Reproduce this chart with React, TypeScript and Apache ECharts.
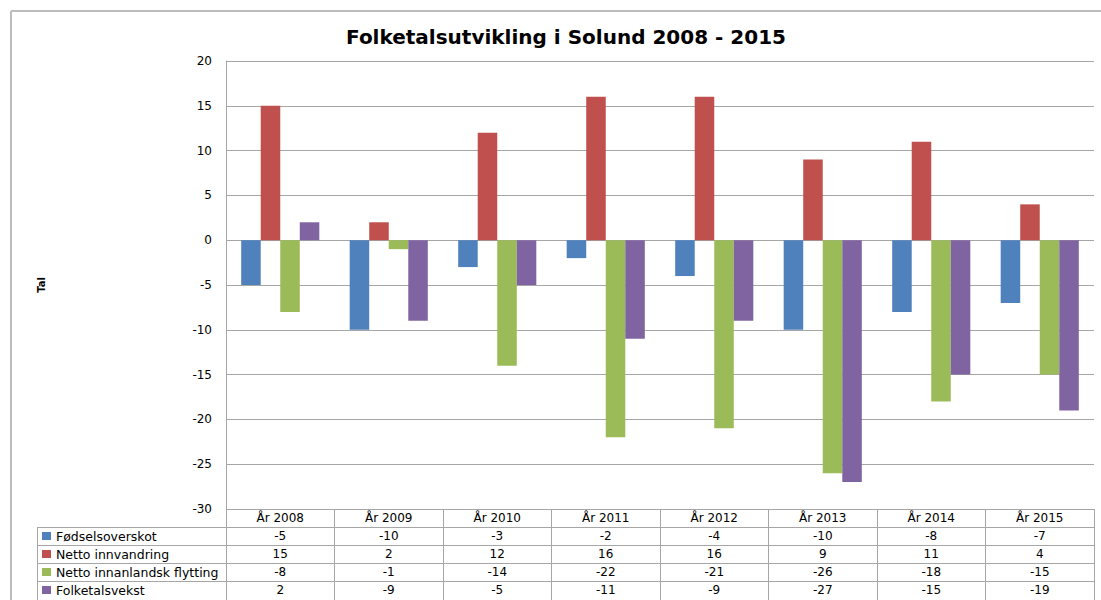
import React, { useEffect, useRef } from "react";
import * as echarts from "echarts";

const categories = ["År 2008", "År 2009", "År 2010", "År 2011", "År 2012", "År 2013", "År 2014", "År 2015"];
const seriesNames = ["Fødselsoverskot", "Netto innvandring", "Netto innanlandsk flytting", "Folketalsvekst"];
const fodselsoverskot = [-5, -10, -3, -2, -4, -10, -8, -7];
const nettoInnvandring = [15, 2, 12, 16, 16, 9, 11, 4];
const nettoInnanlandsk = [-8, -1, -14, -22, -21, -26, -18, -15];
const folketalsvekst = [2, -9, -5, -11, -9, -27, -15, -19];
const seriesValues = [fodselsoverskot, nettoInnvandring, nettoInnanlandsk, folketalsvekst];
const colors = ["#4F81BD", "#C0504D", "#9BBB59", "#8064A2"];
const yTicks = { min: -30, max: 20, interval: 5 };

const GRID_LEFT = 226;
const GRID_RIGHT = 1094;
const GRID_TOP = 61;
const GRID_BOTTOM = 509;
const ROW_H = 18;
const TABLE_LEFT = 37;
const FONT = "'DejaVu Sans', sans-serif";
const LINE = "#a6a6a6";

export default function App() {
  const ref = useRef<HTMLDivElement>(null);
  useEffect(() => {
    if (!ref.current) return;
    const chart = echarts.init(ref.current, null, { renderer: "svg" });

    const rowAxes = seriesValues.map((vals, i) => ({
      type: "category",
      gridIndex: 0,
      position: "bottom",
      offset: ROW_H * (i + 1),
      data: vals.map(String),
      axisLine: { show: false, onZero: false },
      axisTick: { show: false },
      splitLine: { show: false },
      axisLabel: { interval: 0, margin: 3, fontSize: 12, color: "#000", fontFamily: FONT },
    }));

    const graphics: any[] = [];
    graphics.push({ type: "line", shape: { x1: 11, y1: 11, x2: 1101, y2: 11 }, style: { stroke: "#bdbdbd", lineWidth: 2 } });
    graphics.push({ type: "line", shape: { x1: 11, y1: 11, x2: 11, y2: 600 }, style: { stroke: "#bdbdbd", lineWidth: 2 } });
    for (let i = 1; i <= seriesNames.length; i++) {
      const y = GRID_BOTTOM + ROW_H * i + 0.5;
      graphics.push({ type: "line", shape: { x1: TABLE_LEFT, y1: y, x2: GRID_RIGHT, y2: y }, style: { stroke: LINE, lineWidth: 1 } });
    }
    graphics.push({ type: "line", shape: { x1: TABLE_LEFT + 0.5, y1: GRID_BOTTOM + ROW_H, x2: TABLE_LEFT + 0.5, y2: 600 }, style: { stroke: LINE, lineWidth: 1 } });
    seriesNames.forEach((n, i) => {
      const cy = GRID_BOTTOM + ROW_H * (i + 1) + ROW_H / 2;
      graphics.push({ type: "rect", shape: { x: 42, y: cy - 4, width: 9, height: 8 }, style: { fill: colors[i] } });
      graphics.push({
        type: "text",
        x: 56,
        y: cy,
        style: { text: n, fontSize: 12.5, fill: "#000", fontFamily: FONT, verticalAlign: "middle", align: "left" },
      });
    });

    chart.setOption({
      animation: false,
      backgroundColor: "#fff",
      title: {
        text: "Folketalsutvikling i Solund 2008 - 2015",
        left: 561,
        textAlign: "center",
        top: 22,
        textStyle: { fontSize: 20, fontWeight: "bold", color: "#000", fontFamily: FONT },
      },
      grid: { left: GRID_LEFT, right: 1101 - GRID_RIGHT, top: GRID_TOP, bottom: 600 - GRID_BOTTOM, containLabel: false },
      xAxis: [
        {
          type: "category",
          data: categories,
          position: "bottom",
          axisLine: { show: false, onZero: false },
          axisTick: { show: true, length: 91, interval: 0, lineStyle: { color: LINE, width: 1 } },
          axisLabel: { interval: 0, margin: 3, fontSize: 12, color: "#000", fontFamily: FONT },
          splitLine: { show: false },
        },
        ...rowAxes,
      ],
      yAxis: {
        type: "value",
        min: yTicks.min,
        max: yTicks.max,
        interval: yTicks.interval,
        name: "Tal",
        nameLocation: "middle",
        nameRotate: 90,
        nameGap: 180,
        nameTextStyle: { fontSize: 10, fontWeight: "bold", color: "#000", fontFamily: FONT },
        axisLine: { show: true, lineStyle: { color: LINE, width: 1 } },
        axisTick: { show: false },
        axisLabel: { fontSize: 12, color: "#000", margin: 14, fontFamily: FONT },
        splitLine: { show: true, lineStyle: { color: LINE, width: 1 } },
      },
      series: seriesValues.map((vals, i) => ({
        type: "bar",
        name: seriesNames[i],
        data: vals,
        xAxisIndex: 0,
        barGap: "0%",
        barCategoryGap: "28%",
        itemStyle: { color: colors[i] },
      })),
      graphic: graphics,
    });
    return () => chart.dispose();
  }, []);
  return <div ref={ref} style={{ position: "fixed", left: 0, top: 0, width: 1101, height: 600 }} />;
}
